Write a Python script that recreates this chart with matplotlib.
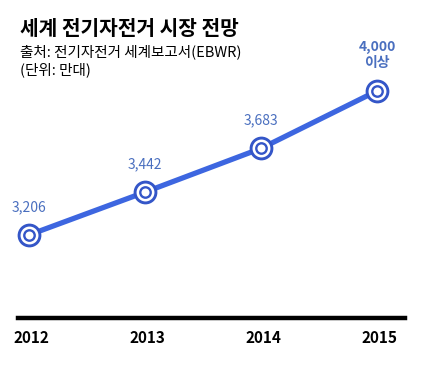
import matplotlib
matplotlib.use('Agg')
import matplotlib.pyplot as plt
from matplotlib.lines import Line2D
import matplotlib.transforms as mtransforms

plt.rcParams['font.family'] = ['Noto Sans CJK KR', 'DejaVu Sans']

# data
years = ['2012', '2013', '2014', '2015']
values = [3206, 3442, 3683, 4000]
value_labels = ['3,206', '3,442', '3,683', '4,000\n이상']

title = '세계 전기자전거 시장 전망'
subtitle = '출처: 전기자전거 세계보고서(EBWR)'
unit_note = '(단위: 만대)'

line_color = '#3d66e0'
ring_color = '#3456c8'
label_color = '#4a6fbf'

fig = plt.figure(figsize=(4.29, 3.71), dpi=100)
ax = fig.add_axes([0, 0, 1, 1])
x = list(range(len(years)))

# line + double ring markers
ax.plot(x, values, color=line_color, lw=3.8, solid_capstyle='round', zorder=2)
ax.plot(x, values, ls='none', marker='o', ms=15, mfc='white', mec=ring_color, mew=2.1, zorder=3)
ax.plot(x, values, ls='none', marker='o', ms=7.5, mfc='white', mec=ring_color, mew=1.7, zorder=4)

for xi, v, lab in zip(x, values, value_labels):
    w = 'bold' if '\n' in lab else 'normal'
    ax.annotate(lab, (xi, v), xytext=(0, 15), textcoords='offset points',
                ha='center', va='bottom', fontsize=10, color=label_color,
                fontweight=w, linespacing=1.15)

ax.set_xlim(-0.25, 3.448)
ax.set_ylim(2456, 4501)
ax.axis('off')

# baseline
fig.add_artist(Line2D([0.042, 0.944], [0.143, 0.143], color='black', lw=3.2,
                      transform=fig.transFigure))

# year labels
trans = mtransforms.blended_transform_factory(ax.transData, fig.transFigure)
for xi, yr in zip(x, years):
    ax.text(xi + 0.02, 0.088, yr, transform=trans, ha='center', va='center',
            fontsize=11, fontweight='bold', color='black')

# titles
fig.text(0.047, 0.922, title, fontsize=14.6, fontweight='bold', va='center', ha='left')
fig.text(0.047, 0.860, subtitle, fontsize=10.5, va='center', ha='left')
fig.text(0.047, 0.813, unit_note, fontsize=10.5, va='center', ha='left')

fig.savefig('out.png', dpi=100, facecolor='white')
